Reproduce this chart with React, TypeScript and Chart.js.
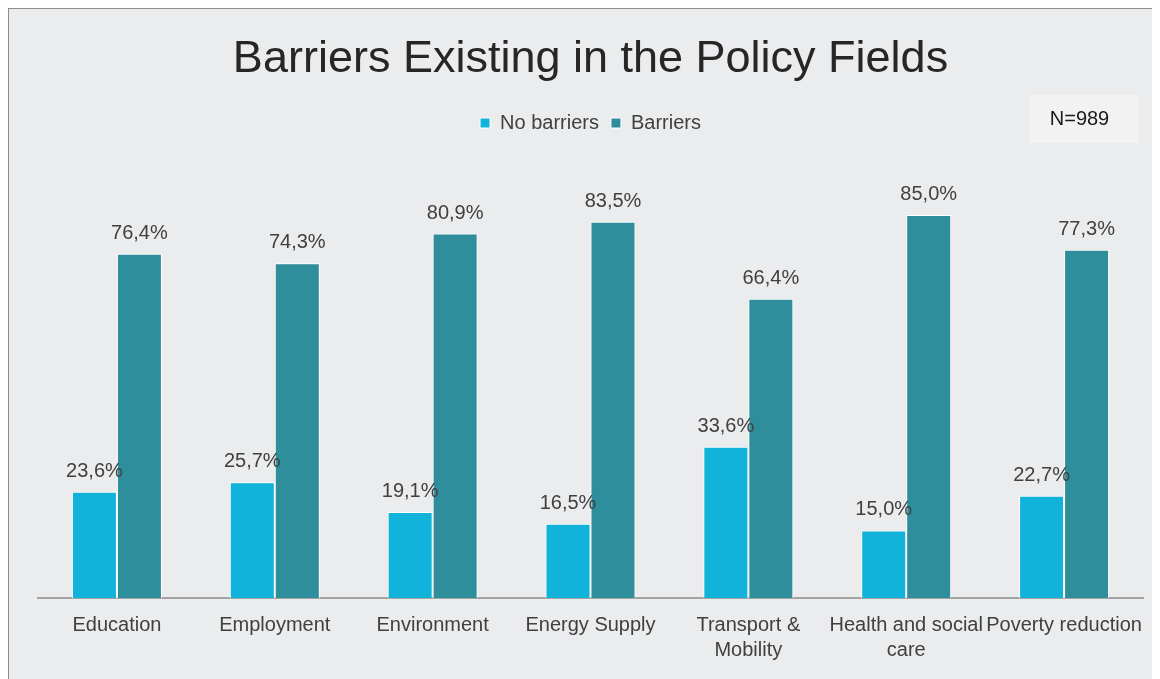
import React, { useEffect, useRef } from "react";
import { Chart, registerables } from "chart.js";

Chart.register(...registerables);

const categories: (string | string[])[] = [
  "Education",
  "Employment",
  "Environment",
  "Energy Supply",
  ["Transport &", "Mobility"],
  ["Health and social", "care"],
  "Poverty reduction",
];
const noBarriers = [23.6, 25.7, 19.1, 16.5, 33.6, 15.0, 22.7];
const barriers = [76.4, 74.3, 80.9, 83.5, 66.4, 85.0, 77.3];
const seriesNames = ["No barriers", "Barriers"];
const titleText = "Barriers Existing in the Policy Fields";
const noteText = "N=989";

const FONT = "'Liberation Sans', Arial, sans-serif";

const valueLabels = {
  id: "valueLabels",
  afterDatasetsDraw(chart: any) {
    const ctx = chart.ctx;
    ctx.save();
    ctx.font = `20px ${FONT}`;
    ctx.fillStyle = "#404040";
    ctx.textAlign = "center";
    ctx.textBaseline = "alphabetic";
    chart.data.datasets.forEach((ds: any, i: number) => {
      const meta = chart.getDatasetMeta(i);
      meta.data.forEach((el: any, j: number) => {
        const v = ds.data[j] as number;
        const txt = v.toFixed(1).replace(".", ",") + "%";
        ctx.fillText(txt, el.x, el.y - 15);
      });
    });
    ctx.restore();
  },
};

const noteBox = {
  id: "noteBox",
  afterDraw(chart: any) {
    const ctx = chart.ctx;
    const x = chart.chartArea.right - 114;
    const y = 86;
    const w = 109;
    const h = 48;
    ctx.save();
    ctx.fillStyle = "#F2F2F2";
    ctx.fillRect(x, y, w, h);
    ctx.font = `20px ${FONT}`;
    ctx.fillStyle = "#1a1a1a";
    ctx.textAlign = "center";
    ctx.textBaseline = "middle";
    ctx.fillText(noteText, x + w / 2 - 4, y + h / 2);
    ctx.restore();
  },
};

export default function App() {
  const ref = useRef<HTMLCanvasElement>(null);
  useEffect(() => {
    if (!ref.current) return;
    const chart = new Chart(ref.current, {
      type: "bar",
      data: {
        labels: categories,
        datasets: [
          {
            label: seriesNames[0],
            data: noBarriers,
            backgroundColor: "#12B3DB",
            borderColor: "#FFFFFF",
            borderWidth: 1,
          },
          {
            label: seriesNames[1],
            data: barriers,
            backgroundColor: "#2F8E9B",
            borderColor: "#FFFFFF",
            borderWidth: 1,
          },
        ],
      },
      options: {
        animation: false,
        responsive: true,
        maintainAspectRatio: false,
        layout: { padding: { left: 29, right: 17, top: 0, bottom: 1 } },
        datasets: {
          bar: { categoryPercentage: 0.57, barPercentage: 1.0 },
        },
        plugins: {
          title: {
            display: true,
            text: titleText,
            color: "#262626",
            font: { family: FONT, size: 45, weight: "normal" },
            padding: { top: 24, bottom: 14 },
          },
          legend: {
            display: true,
            labels: {
              color: "#404040",
              font: { family: FONT, size: 20 },
              boxWidth: 10,
              boxHeight: 10,
              padding: 12,
            },
          },
          tooltip: { enabled: false },
        },
        scales: {
          x: {
            grid: { display: false, drawTicks: false },
            border: { display: true, color: "#A3A3A3", width: 2 },
            ticks: {
              color: "#404040",
              font: { family: FONT, size: 20, lineHeight: 1.25 },
              padding: 15,
              maxRotation: 0,
              autoSkip: false,
            },
          },
          y: {
            display: false,
            min: 0,
            max: 101,
          },
        },
      },
      plugins: [valueLabels, noteBox],
    });
    return () => chart.destroy();
  }, []);
  return (
    <div
      style={{
        width: 1152,
        height: 671,
        borderTop: "1px solid #8c8c8c",
        borderLeft: "1px solid #8c8c8c",
        background: "#EBECEE",
        boxSizing: "border-box",
        position: "relative",
      }}
    >
      <canvas ref={ref} />
    </div>
  );
}
